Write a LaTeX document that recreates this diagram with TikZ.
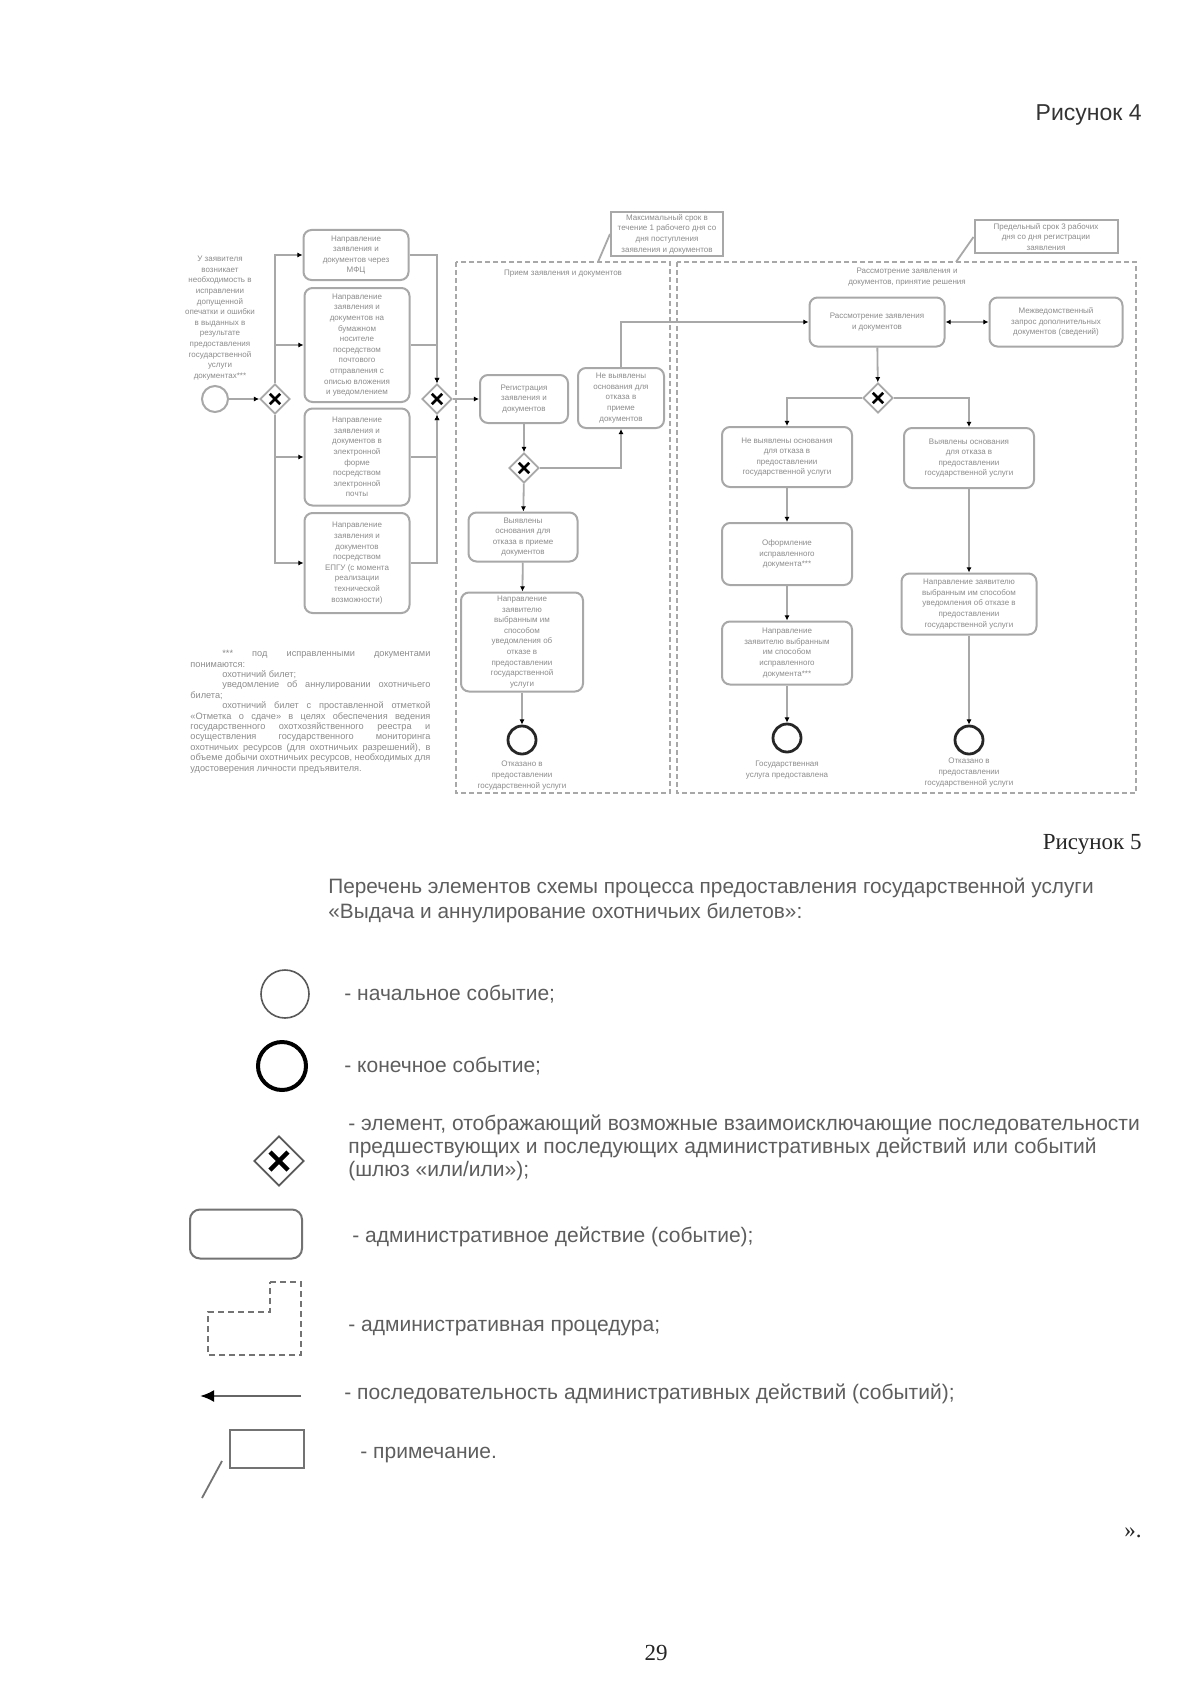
\documentclass[tikz,border=0pt]{standalone}
\usepackage{fontspec}
\setmainfont{Liberation Serif}
\setsansfont{Liberation Sans}
\newfontfamily\lsans{Liberation Sans}
\usetikzlibrary{shapes.geometric,arrows.meta}
\definecolor{ln}{HTML}{A8A8A8}
\definecolor{tx}{HTML}{8C8C8C}
\definecolor{lg}{HTML}{5E5E5E}
\tikzset{
  dtext/.style={font=\lsans\fontsize{4}{5.3}\selectfont, text=tx, align=center, inner sep=1pt},
  act/.style={dtext, draw=ln, line width=1pt, rounded corners=4pt},
  notebox/.style={dtext, draw=ln, line width=1pt},
  gw/.style={diamond, draw=ln, line width=0.9pt, fill=white, minimum size=15pt, inner sep=0pt,
    path picture={
      \draw[black, line width=1.3pt] ([xshift=-2.6pt,yshift=-2.6pt]path picture bounding box.center) -- ([xshift=2.6pt,yshift=2.6pt]path picture bounding box.center);
      \draw[black, line width=1.3pt] ([xshift=-2.6pt,yshift=2.6pt]path picture bounding box.center) -- ([xshift=2.6pt,yshift=-2.6pt]path picture bounding box.center);}},
  startev/.style={circle, draw=ln, line width=1pt, minimum size=13pt, inner sep=0pt},
  endev/.style={circle, draw=black!85, line width=1.4pt, minimum size=14pt, inner sep=0pt},
  conn/.style={draw=ln, line width=0.9pt, -{Latex[length=2.6pt,width=2.6pt,color=black]}},
  plain/.style={draw=ln, line width=0.9pt},
  region/.style={draw=ln, line width=0.7pt, dash pattern=on 2.5pt off 1.5pt},
  lgtext/.style={font=\lsans\fontsize{10.5}{11.6}\selectfont, text=lg, align=left, inner sep=0pt},
  fnote/.style={font=\lsans\fontsize{4.6}{5.2}\selectfont, text=tx, align=justify, text width=120pt, inner sep=0pt},
}
\begin{document}
\begin{tikzpicture}[x=0.5pt,y=-0.5pt]
\fill[white] (0,0) rectangle (1200,1696);
\useasboundingbox (0,0) rectangle (1200,1696);

% page texts
\node[font=\lsans\fontsize{11.5}{13}\selectfont, text=black!80, anchor=east, inner sep=0pt] (fig4) at (1142,115) {Рисунок 4};
\node[font=\fontsize{11.5}{13}\selectfont, text=black!85, anchor=east, inner sep=0pt] (fig5) at (1142,844) {Рисунок 5};

% regions
\draw[region] (456,262) rectangle (670,793);
\draw[region] (677,262) rectangle (1136,793);
\node[dtext] (r1t) at (563,274) {Прием заявления и документов};
\node[dtext] (r2t) at (907,277) {Рассмотрение заявления и\\документов, принятие решения};

% notes
\node[notebox, minimum width=56pt, minimum height=20pt] (n1) at (667,234) {Максимальный срок в\\течение 1 рабочего дня со\\дня поступления\\заявления и документов};
\coordinate (n1a) at (598,262);
\draw[plain] (n1.west) -- (n1a);
\node[notebox, minimum width=71.5pt, minimum height=16.5pt] (n2) at (1046,237) {Предельный срок 3 рабочих\\дня со дня регистрации\\заявления};
\coordinate (n2a) at (956,262);
\draw[plain] (n2.west) -- (n2a);

% left part
\node[dtext] (lt) at (220,318) {У заявителя\\возникает\\необходимость в\\исправлении\\допущенной\\опечатки и ошибки\\в выданных в\\результате\\предоставления\\государственной\\услуги\\документах***};
\node[startev] (st) at (215,399) {};
\node[gw] (g1) at (275,399) {};
\draw[conn] (st) -- (g1);

\node[act, minimum width=52.5pt, minimum height=25pt] (b1) at (356,255) {Направление\\заявления и\\документов через\\МФЦ};
\node[act, minimum width=52.5pt, minimum height=57pt] (b2) at (357,345) {Направление\\заявления и\\документов на\\бумажном\\носителе\\посредством\\почтового\\отправления с\\описью вложения\\и уведомлением};
\node[act, minimum width=52.5pt, minimum height=48.5pt] (b3) at (357,457) {Направление\\заявления и\\документов в\\электронной\\форме\\посредством\\электронной\\почты};
\node[act, minimum width=52.5pt, minimum height=50pt] (b4) at (357,563) {Направление\\заявления и\\документов\\посредством\\ЕПГУ (с момента\\реализации\\технической\\возможности)};

\draw[conn] (g1.north) |- (b1.west);
\draw[conn] (g1.north) |- (b2.west);
\draw[conn] (g1.south) |- (b3.west);
\draw[conn] (g1.south) |- (b4.west);

\node[gw] (g2) at (437,399) {};
\draw[conn] (b1.east) -| (g2.north);
\draw[conn] (b2.east) -| (g2.north);
\draw[conn] (b3.east) -| (g2.south);
\draw[conn] (b4.east) -| (g2.south);

% region 1
\node[act, minimum width=44pt, minimum height=24pt] (b5) at (524,399) {Регистрация\\заявления и\\документов};
\node[act, minimum width=43pt, minimum height=30pt] (b6) at (621,398) {Не выявлены\\основания для\\отказа в\\приеме\\документов};
\node[gw] (g3) at (524,468) {};
\node[act, minimum width=54.5pt, minimum height=24.5pt] (b7) at (523,537) {Выявлены\\основания для\\отказа в приеме\\документов};
\node[act, minimum width=61pt, minimum height=49.5pt] (b8) at (522,642) {Направление\\заявителю\\выбранным им\\способом\\уведомления об\\отказе в\\предоставлении\\государственной\\услуги};
\node[endev] (e1) at (522,740) {};
\node[dtext, anchor=north] (e1l) at (522,759) {Отказано в\\предоставлении\\государственной услуги};

\draw[conn] (g2) -- (b5);
\draw[conn] (b5) -- (g3);
\draw[conn] (g3.east) -| (b6.south);
\draw[conn] (g3) -- (b7);
\draw[conn] (b7) -- (b8);
\draw[conn] (b8) -- (e1);

% region 2
\node[act, minimum width=67.5pt, minimum height=24.5pt] (b9) at (877,322) {Рассмотрение заявления\\и документов};
\node[act, minimum width=66.5pt, minimum height=24.5pt] (b10) at (1056,322) {Межведомственный\\запрос дополнительных\\документов (сведений)};
\draw[conn] (b6.north) |- (b9.west);
\draw[draw=ln, line width=0.9pt, {Latex[length=2.6pt,width=2.6pt,color=black]}-{Latex[length=2.6pt,width=2.6pt,color=black]}] (b9) -- (b10);

\node[gw] (g4) at (878,398) {};
\draw[conn] (b9) -- (g4);

\node[act, minimum width=65pt, minimum height=30pt] (b11) at (787,457) {Не выявлены основания\\для отказа в\\предоставлении\\государственной услуги};
\node[act, minimum width=65pt, minimum height=30pt] (b12) at (969,458) {Выявлены основания\\для отказа в\\предоставлении\\государственной услуги};
\draw[conn] (g4.west) -| (b11.north);
\draw[conn] (g4.east) -| (b12.north);

\node[act, minimum width=65pt, minimum height=31pt] (b13) at (787,554) {Оформление\\исправленного\\документа***};
\node[act, minimum width=65pt, minimum height=31.5pt] (b14) at (787,653) {Направление\\заявителю выбранным\\им способом\\исправленного\\документа***};
\node[endev] (e2) at (787,738) {};
\node[dtext, anchor=north] (e2l) at (787,759) {Государственная\\услуга предоставлена};

\node[act, minimum width=67.5pt, minimum height=30.5pt] (b15) at (969,604) {Направление заявителю\\выбранным им способом\\уведомления об отказе в\\предоставлении\\государственной услуги};
\node[endev] (e3) at (969,740) {};
\node[dtext, anchor=north] (e3l) at (969,756) {Отказано в\\предоставлении\\государственной услуги};

\draw[conn] (b11) -- (b13);
\draw[conn] (b13) -- (b14);
\draw[conn] (b14) -- (e2);
\draw[conn] (b12) -- (b15);
\draw[conn] (b15) -- (e3);

% footnote
\node[fnote, anchor=north west] (fn) at (190,650) {\hspace*{16pt}*** под исправленными документами понимаются:\par
\hspace*{16pt}охотничий билет;\par
\hspace*{16pt}уведомление об аннулировании охотничьего билета;\par
\hspace*{16pt}охотничий билет с проставленной отметкой «Отметка о сдаче» в целях обеспечения ведения государственного охотхозяйственного реестра и осуществления государственного мониторинга охотничьих ресурсов (для охотничьих разрешений), в объеме добычи охотничьих ресурсов, необходимых для удостоверения личности предъявителя.};

% legend
\node[font=\lsans\fontsize{10.4}{12.5}\selectfont, text=lg, align=left, anchor=west, inner sep=0pt] (ttl) at (328,900) {Перечень элементов схемы процесса предоставления государственной услуги\\«Выдача и аннулирование охотничьих билетов»:};

\node[circle, draw=black!65, line width=0.8pt, minimum size=24pt, inner sep=0pt] (ls) at (285,994) {};
\node[lgtext, anchor=west] (lst) at (344,994) {- начальное событие;};

\node[circle, draw=black, line width=2pt, minimum size=24pt, inner sep=0pt] (le) at (282,1066) {};
\node[lgtext, anchor=west] (let) at (344,1066) {- конечное событие;};

\node[diamond, draw=black!65, line width=0.9pt, minimum size=25pt, inner sep=0pt,
  path picture={
    \draw[black, line width=2.2pt] ([xshift=-4.5pt,yshift=-4.5pt]path picture bounding box.center) -- ([xshift=4.5pt,yshift=4.5pt]path picture bounding box.center);
    \draw[black, line width=2.2pt] ([xshift=-4.5pt,yshift=4.5pt]path picture bounding box.center) -- ([xshift=4.5pt,yshift=-4.5pt]path picture bounding box.center);}] (lg) at (279,1161) {};
\node[lgtext, anchor=west] (lgt) at (348,1148) {- элемент, отображающий возможные взаимоисключающие последовательности\\предшествующих и последующих административных действий или событий\\(шлюз «или/или»);};

\node[draw=black!55, line width=1pt, rounded corners=5pt, minimum width=56pt, minimum height=24.5pt, inner sep=0pt] (lr) at (246,1234) {};
\node[lgtext, anchor=west] (lrt) at (352,1237) {- административное действие (событие);};

\draw[draw=black!55, line width=0.9pt, dash pattern=on 3pt off 2pt] (270,1282) -- (301,1282) -- (301,1355) -- (208,1355) -- (208,1312) -- (270,1312) -- cycle;
\node[lgtext, anchor=west] (lpt) at (348,1328) {- административная процедура;};

\coordinate (la1) at (301,1396);
\coordinate (la2) at (200,1396);
\draw[draw=black!60, line width=1.2pt, -{Latex[length=7pt,width=6pt,color=black]}] (la1) -- (la2);
\node[lgtext, anchor=west] (lat) at (344,1394) {- последовательность административных действий (событий);};

\node[draw=black!55, line width=1.2pt, minimum width=37pt, minimum height=19pt, inner sep=0pt] (ln) at (267,1449) {};
\coordinate (lnb) at (222,1461);
\coordinate (lnt) at (202,1498);
\draw[draw=black!55, line width=0.9pt] (lnb) -- (lnt);
\node[lgtext, anchor=west] (lnx) at (360,1455) {- примечание.};

\node[font=\fontsize{11.5}{13}\selectfont, text=black!85, anchor=east, inner sep=0pt] (qend) at (1142,1533) {».};
\node[font=\fontsize{11.5}{13}\selectfont, text=black!85, inner sep=0pt] (pg) at (656,1653) {29};
\end{tikzpicture}
\end{document}
